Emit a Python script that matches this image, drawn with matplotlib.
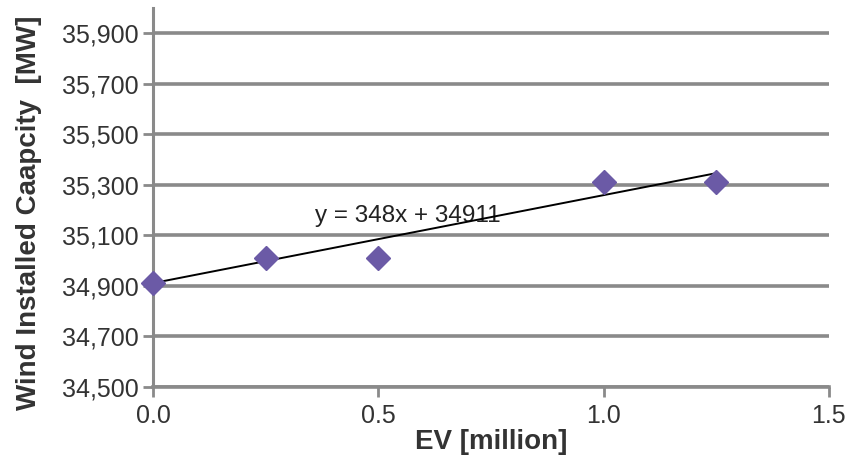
import numpy as np
import matplotlib
matplotlib.use("Agg")
from matplotlib import pyplot as plt
import matplotlib.ticker as mticker

# data
ev_million = [0.0, 0.25, 0.5, 1.0, 1.25]
wind_mw = [34911, 35010, 35010, 35310, 35310]
trend_slope = 348
trend_intercept = 34911
y_ticks = [34500, 34700, 34900, 35100, 35300, 35500, 35700, 35900]
x_ticks = [0.0, 0.5, 1.0, 1.5]

plt.rcParams['font.family'] = ['Liberation Sans', 'DejaVu Sans']

fig = plt.figure(figsize=(8.5, 4.62), dpi=100)
ax = fig.add_axes([0.18, 0.1623, 0.795, 0.8207])

grey = '#8a8a8a'
for yv in y_ticks:
    ax.axhline(yv, color=grey, lw=2.6, zorder=1)

# trend line
xt = np.array([ev_million[0], ev_million[-1]])
ax.plot(xt, trend_slope * xt + trend_intercept, color='black', lw=1.4, zorder=3)

ax.plot(ev_million, wind_mw, linestyle='none', marker='D', ms=12,
        color='#6b5aa6', zorder=4, clip_on=False)

ax.text(0.36, 35175, "y = %dx + %d" % (trend_slope, trend_intercept),
        fontsize=17.5, color='#222222', va='center', ha='left', zorder=2)

ax.set_xlim(0, 1.5)
ax.set_ylim(34500, 36000)
ax.set_xticks(x_ticks)
ax.set_yticks(y_ticks)
ax.xaxis.set_major_formatter(mticker.FormatStrFormatter('%.1f'))
ax.yaxis.set_major_formatter(mticker.FuncFormatter(lambda v, p: "{:,.0f}".format(v)))

for s in ['top', 'right']:
    ax.spines[s].set_visible(False)
ax.spines['left'].set_color(grey)
ax.spines['left'].set_linewidth(2.2)
ax.spines['bottom'].set_color(grey)
ax.spines['bottom'].set_linewidth(2.6)

ax.tick_params(axis='y', direction='out', length=7, width=2, color=grey,
               labelsize=18, labelcolor='#333333', pad=3)
ax.tick_params(axis='x', direction='out', length=7, width=2, color=grey,
               labelsize=18, labelcolor='#333333', pad=5)

ax.set_xlabel('EV [million]', fontsize=20, fontweight='bold', color='#333333', labelpad=1)
ax.set_ylabel('Wind Installed Caapcity  [MW]', fontsize=20, fontweight='bold',
              color='#333333')
ax.yaxis.set_label_coords(-0.165, 0.46)

fig.savefig('out.png', dpi=100)
